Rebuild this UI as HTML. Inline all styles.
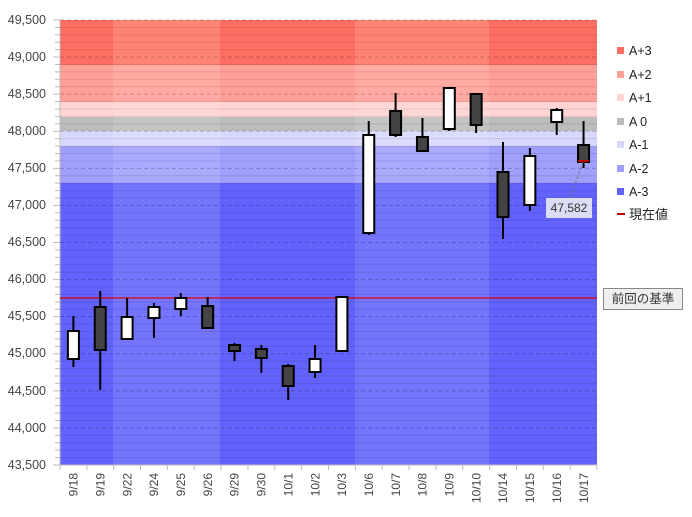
<!DOCTYPE html>
<html><head><meta charset="utf-8"><style>
body{margin:0;background:#fff;}
svg{display:block;font-family:"Liberation Sans","Noto Sans CJK JP",sans-serif;}
</style></head><body>
<svg id="s" width="692" height="517" viewBox="0 0 692 517" xmlns="http://www.w3.org/2000/svg">
<g id="bands"></g>
<g id="grid"></g>
<line x1="60" y1="20" x2="60" y2="465" stroke="#bbb"/>
<line x1="60" y1="465" x2="597" y2="465" stroke="#bbb"/>
<g id="ticks" stroke="#bbb"></g>
<g font-size="12.5" fill="#444" text-anchor="end">
<text x="46" y="24">49,500</text>
<text x="46" y="61">49,000</text>
<text x="46" y="98">48,500</text>
<text x="46" y="135">48,000</text>
<text x="46" y="172">47,500</text>
<text x="46" y="209">47,000</text>
<text x="46" y="246">46,500</text>
<text x="46" y="283">46,000</text>
<text x="46" y="320">45,500</text>
<text x="46" y="357">45,000</text>
<text x="46" y="395">44,500</text>
<text x="46" y="432">44,000</text>
<text x="46" y="469">43,500</text>
</g>
<g font-size="12" fill="#444" text-anchor="end">
<text transform="translate(77.6,473) rotate(-90)">9/18</text>
<text transform="translate(104.5,473) rotate(-90)">9/19</text>
<text transform="translate(131.3,473) rotate(-90)">9/22</text>
<text transform="translate(158.2,473) rotate(-90)">9/24</text>
<text transform="translate(185,473) rotate(-90)">9/25</text>
<text transform="translate(211.9,473) rotate(-90)">9/26</text>
<text transform="translate(238.7,473) rotate(-90)">9/29</text>
<text transform="translate(265.6,473) rotate(-90)">9/30</text>
<text transform="translate(292.4,473) rotate(-90)">10/1</text>
<text transform="translate(319.3,473) rotate(-90)">10/2</text>
<text transform="translate(346.1,473) rotate(-90)">10/3</text>
<text transform="translate(373,473) rotate(-90)">10/6</text>
<text transform="translate(399.8,473) rotate(-90)">10/7</text>
<text transform="translate(426.7,473) rotate(-90)">10/8</text>
<text transform="translate(453.5,473) rotate(-90)">10/9</text>
<text transform="translate(480.4,473) rotate(-90)">10/10</text>
<text transform="translate(507.2,473) rotate(-90)">10/14</text>
<text transform="translate(534.1,473) rotate(-90)">10/15</text>
<text transform="translate(560.9,473) rotate(-90)">10/16</text>
<text transform="translate(587.8,473) rotate(-90)">10/17</text>
</g>
<line x1="60" y1="298" x2="597" y2="298" stroke="#e00000" stroke-width="1.3"/>
<g id="candles"></g>
<line x1="583" y1="162" x2="570" y2="198" stroke="#777" stroke-dasharray="3,2"/>
<rect x="546" y="198" width="46" height="20" fill="#dcdcf4"/>
<text x="569" y="212" font-size="12" fill="#333" text-anchor="middle">47,582</text>
<rect x="603.5" y="288.5" width="79" height="21" fill="#efefef" stroke="#888"/>
<text x="643" y="303" font-size="12.5" fill="#333" text-anchor="middle">前回の基準</text>
<g font-size="12.5" fill="#222">
<rect x="617" y="47" width="7" height="7" fill="#fe6e62"/><text x="629" y="55">A+3</text>
<rect x="617" y="71" width="7" height="7" fill="#ffa098"/><text x="629" y="79">A+2</text>
<rect x="617" y="94" width="7" height="7" fill="#ffd4d2"/><text x="629" y="102">A+1</text>
<rect x="617" y="118" width="7" height="7" fill="#bcbcbc"/><text x="629" y="126">A 0</text>
<rect x="617" y="141" width="7" height="7" fill="#d8d8fc"/><text x="629" y="149">A-1</text>
<rect x="617" y="165" width="7" height="7" fill="#a0a0fc"/><text x="629" y="173">A-2</text>
<rect x="617" y="188" width="7" height="7" fill="#6262fc"/><text x="629" y="196">A-3</text>
<rect x="617" y="213" width="8" height="2" fill="#c00000"/><text x="629" y="219" font-size="13">現在値</text>
</g>
</svg>
<script>
var NS="http://www.w3.org/2000/svg";
function el(p,t,a){var e=document.createElementNS(NS,t);for(var k in a)e.setAttribute(k,a[k]);p.appendChild(e);return e;}
var bands=document.getElementById('bands');
var rows=[[20,65,'#fe6e62','#ff8476'],[65,102,'#ffa098','#ffaaa2'],[102,117,'#ffd4d2','#ffd8d6'],[117,131,'#bcbcbc','#c4c4c4'],[131,146,'#d8d8fc','#dcdcfc'],[146,183,'#a0a0fc','#aaaaff'],[183,465,'#6262fc','#7474fc']];
var cols=[[60,113,0],[113,220,1],[220,355,0],[355,489,1],[489,597,0]];
rows.forEach(function(r){cols.forEach(function(c){el(bands,'rect',{x:c[0],y:r[0],width:c[1]-c[0],height:r[1]-r[0],fill:r[2+c[2]]});});});
var g=document.getElementById('grid'),tk=document.getElementById('ticks');
var py=445/6000;
for(var v=0;v<=60;v++){var y=20+v*100*py;
 if(v%5==0){el(g,'line',{x1:60,x2:597,y1:y,y2:y,stroke:'rgba(0,0,0,0.22)','stroke-dasharray':'4,3'});el(tk,'line',{x1:53,x2:60,y1:y,y2:y});}
 else{el(g,'line',{x1:60,x2:597,y1:y,y2:y,stroke:'rgba(0,0,0,0.10)'});el(tk,'line',{x1:55,x2:60,y1:y,y2:y});}
}
for(var i=0;i<=20;i++){var x=60+i*26.85;el(tk,'line',{x1:x,x2:x,y1:465,y2:470});}
var d=[[0,331,359,316,367],[1,307,350,291,390,1],[0,317,339,298,339],[0,307,318,303,338],[0,298,309,293,316],[1,306,328,297,328,1],[1,345,351,343,361,1],[1,349,358,345,373,1],[1,366,386,364,400,1],[0,359,372,345,378],[0,297,351,297,351],[0,135,233,121,235],[1,111,135,93,137,1],[1,137,151,118,151,1],[0,88,129,88,131],[1,94,125,94,133,1],[1,172,217,142,239,1],[0,156,205,148,211],[0,110,122,108,135],[1,145,162,121,168,1]];
var c=document.getElementById('candles');
d.forEach(function(k,i){var cx=73.4+26.85*i;
 el(c,'line',{x1:cx,x2:cx,y1:k[3],y2:k[4],stroke:'#000','stroke-width':2});
 el(c,'rect',{x:cx-5.5,y:k[1],width:11,height:k[2]-k[1],fill:k[5]?'#444':'#fff',stroke:'#000','stroke-width':2});
});
el(c,'line',{x1:578,x2:589,y1:161,y2:161,stroke:'#c00000','stroke-width':2});
</script>
</body></html>
